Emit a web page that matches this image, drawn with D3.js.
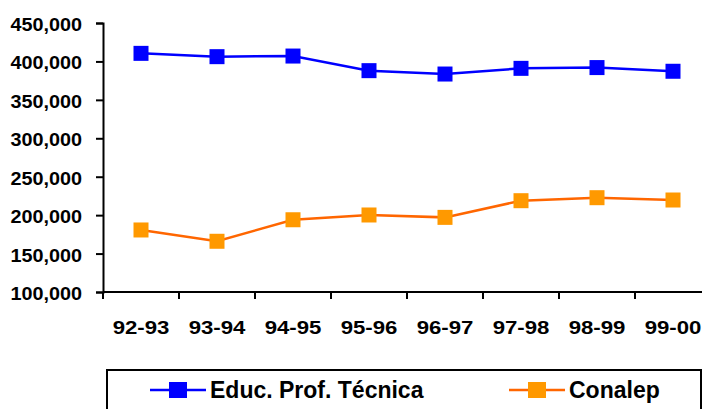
<!DOCTYPE html>
<html>
<head>
<meta charset="utf-8">
<script src="https://cdn.jsdelivr.net/npm/d3@7"></script>
<style>
	body{margin:0;padding:0;background:#fff;overflow:hidden;}
	svg{display:block;}
</style>
</head>
<body>
<div id="chart_div"></div>
<script>
////////////////////////////////////////
// data
////////////////////////////////////////

var cycles = ['92-93','93-94','94-95','95-96','96-97','97-98','98-99','99-00'];
var educProfTecnica = [410500,406200,407000,388000,383600,391000,392000,387200];
var conalep = [180700,166000,194000,200200,197100,218800,222700,219700];
var seriesNames = ['Educ. Prof. Técnica','Conalep'];
var yTicks = [100000,150000,200000,250000,300000,350000,400000,450000];

////////////////////////////////////////
// setup
////////////////////////////////////////

var chart_w = 702;
var chart_h = 409;
var font = '"Liberation Sans", Arial, sans-serif';

var svg = d3.select('#chart_div').append('svg')
	.attr('width',chart_w)
	.attr('height',chart_h);

var x = d3.scaleBand()
	.domain(cycles)
	.range([103,711])
	.padding(0);

var y = d3.scaleLinear()
	.domain([100000,450000])
	.range([292,23]);

var series = [
	{name:seriesNames[0], values:educProfTecnica, line:'#0000ff', marker:'#0000ff'},
	{name:seriesNames[1], values:conalep, line:'#ff6600', marker:'#ff9900'}
];

////////////////////////////////////////
// axes
////////////////////////////////////////

var yAxis = svg.append('g')
	.attr('transform','translate(103,0)')
	.call(d3.axisLeft(y)
		.tickValues(yTicks)
		.tickSize(7)
		.tickPadding(5)
		.tickFormat(d3.format(',')));

yAxis.select('.domain').attr('stroke','#000').attr('stroke-width',2);
yAxis.selectAll('.tick line').attr('stroke','#000').attr('stroke-width',2);
yAxis.selectAll('.tick text')
	.attr('font-family',font)
	.attr('font-weight','bold')
	.attr('font-size',18)
	.attr('fill','#000')
	.attr('x',0)
	.attr('dy','0.36em')
	.attr('transform','translate(-21,1) scale(1.1,1)');

var xAxisG = svg.append('g')
	.attr('transform','translate(0,292)');

xAxisG.append('line')
	.attr('x1',103)
	.attr('x2',chart_w)
	.attr('stroke','#000')
	.attr('stroke-width',2);

xAxisG.selectAll('.xtick')
	.data(cycles)
	.enter()
	.append('line')
	.attr('class','xtick')
	.attr('x1',function(d){return x(d);})
	.attr('x2',function(d){return x(d);})
	.attr('y1',0)
	.attr('y2',7)
	.attr('stroke','#000')
	.attr('stroke-width',2);

xAxisG.selectAll('.xlabel')
	.data(cycles)
	.enter()
	.append('text')
	.attr('class','xlabel')
	.attr('text-anchor','middle')
	.attr('font-family',font)
	.attr('font-weight','bold')
	.attr('font-size',18.5)
	.attr('fill','#000')
	.attr('transform',function(d){
		return 'translate('+(x(d)+x.bandwidth()/2)+',42) scale(1.2,1)';
	})
	.text(function(d){return d;});

////////////////////////////////////////
// lines + markers
////////////////////////////////////////

var line = d3.line()
	.x(function(d,i){return x(cycles[i])+x.bandwidth()/2;})
	.y(function(d){return y(d);});

series.forEach(function(s){
	svg.append('path')
		.datum(s.values)
		.attr('fill','none')
		.attr('stroke',s.line)
		.attr('stroke-width',2.5)
		.attr('d',line);

	svg.selectAll(null)
		.data(s.values)
		.enter()
		.append('rect')
		.attr('x',function(d,i){return x(cycles[i])+x.bandwidth()/2-7.5;})
		.attr('y',function(d){return y(d)-7.5;})
		.attr('width',15)
		.attr('height',15)
		.attr('fill',s.marker);
});

////////////////////////////////////////
// legend
////////////////////////////////////////

var legend = svg.append('g');

legend.append('rect')
	.attr('x',107)
	.attr('y',370)
	.attr('width',594)
	.attr('height',60)
	.attr('fill','#fff')
	.attr('stroke','#000')
	.attr('stroke-width',2);

var legendX = [150,509];

series.forEach(function(s,i){
	var lx = legendX[i];
	legend.append('line')
		.attr('x1',lx)
		.attr('x2',lx+56)
		.attr('y1',390)
		.attr('y2',390)
		.attr('stroke',s.line)
		.attr('stroke-width',2.5);
	legend.append('rect')
		.attr('x',lx+19)
		.attr('y',382)
		.attr('width',18)
		.attr('height',16)
		.attr('fill',s.marker);
	legend.append('text')
		.attr('x',lx+60)
		.attr('y',398)
		.attr('font-family',font)
		.attr('font-weight','bold')
		.attr('font-size',23)
		.attr('fill','#000')
		.text(s.name);
});
</script>
</body>
</html>
